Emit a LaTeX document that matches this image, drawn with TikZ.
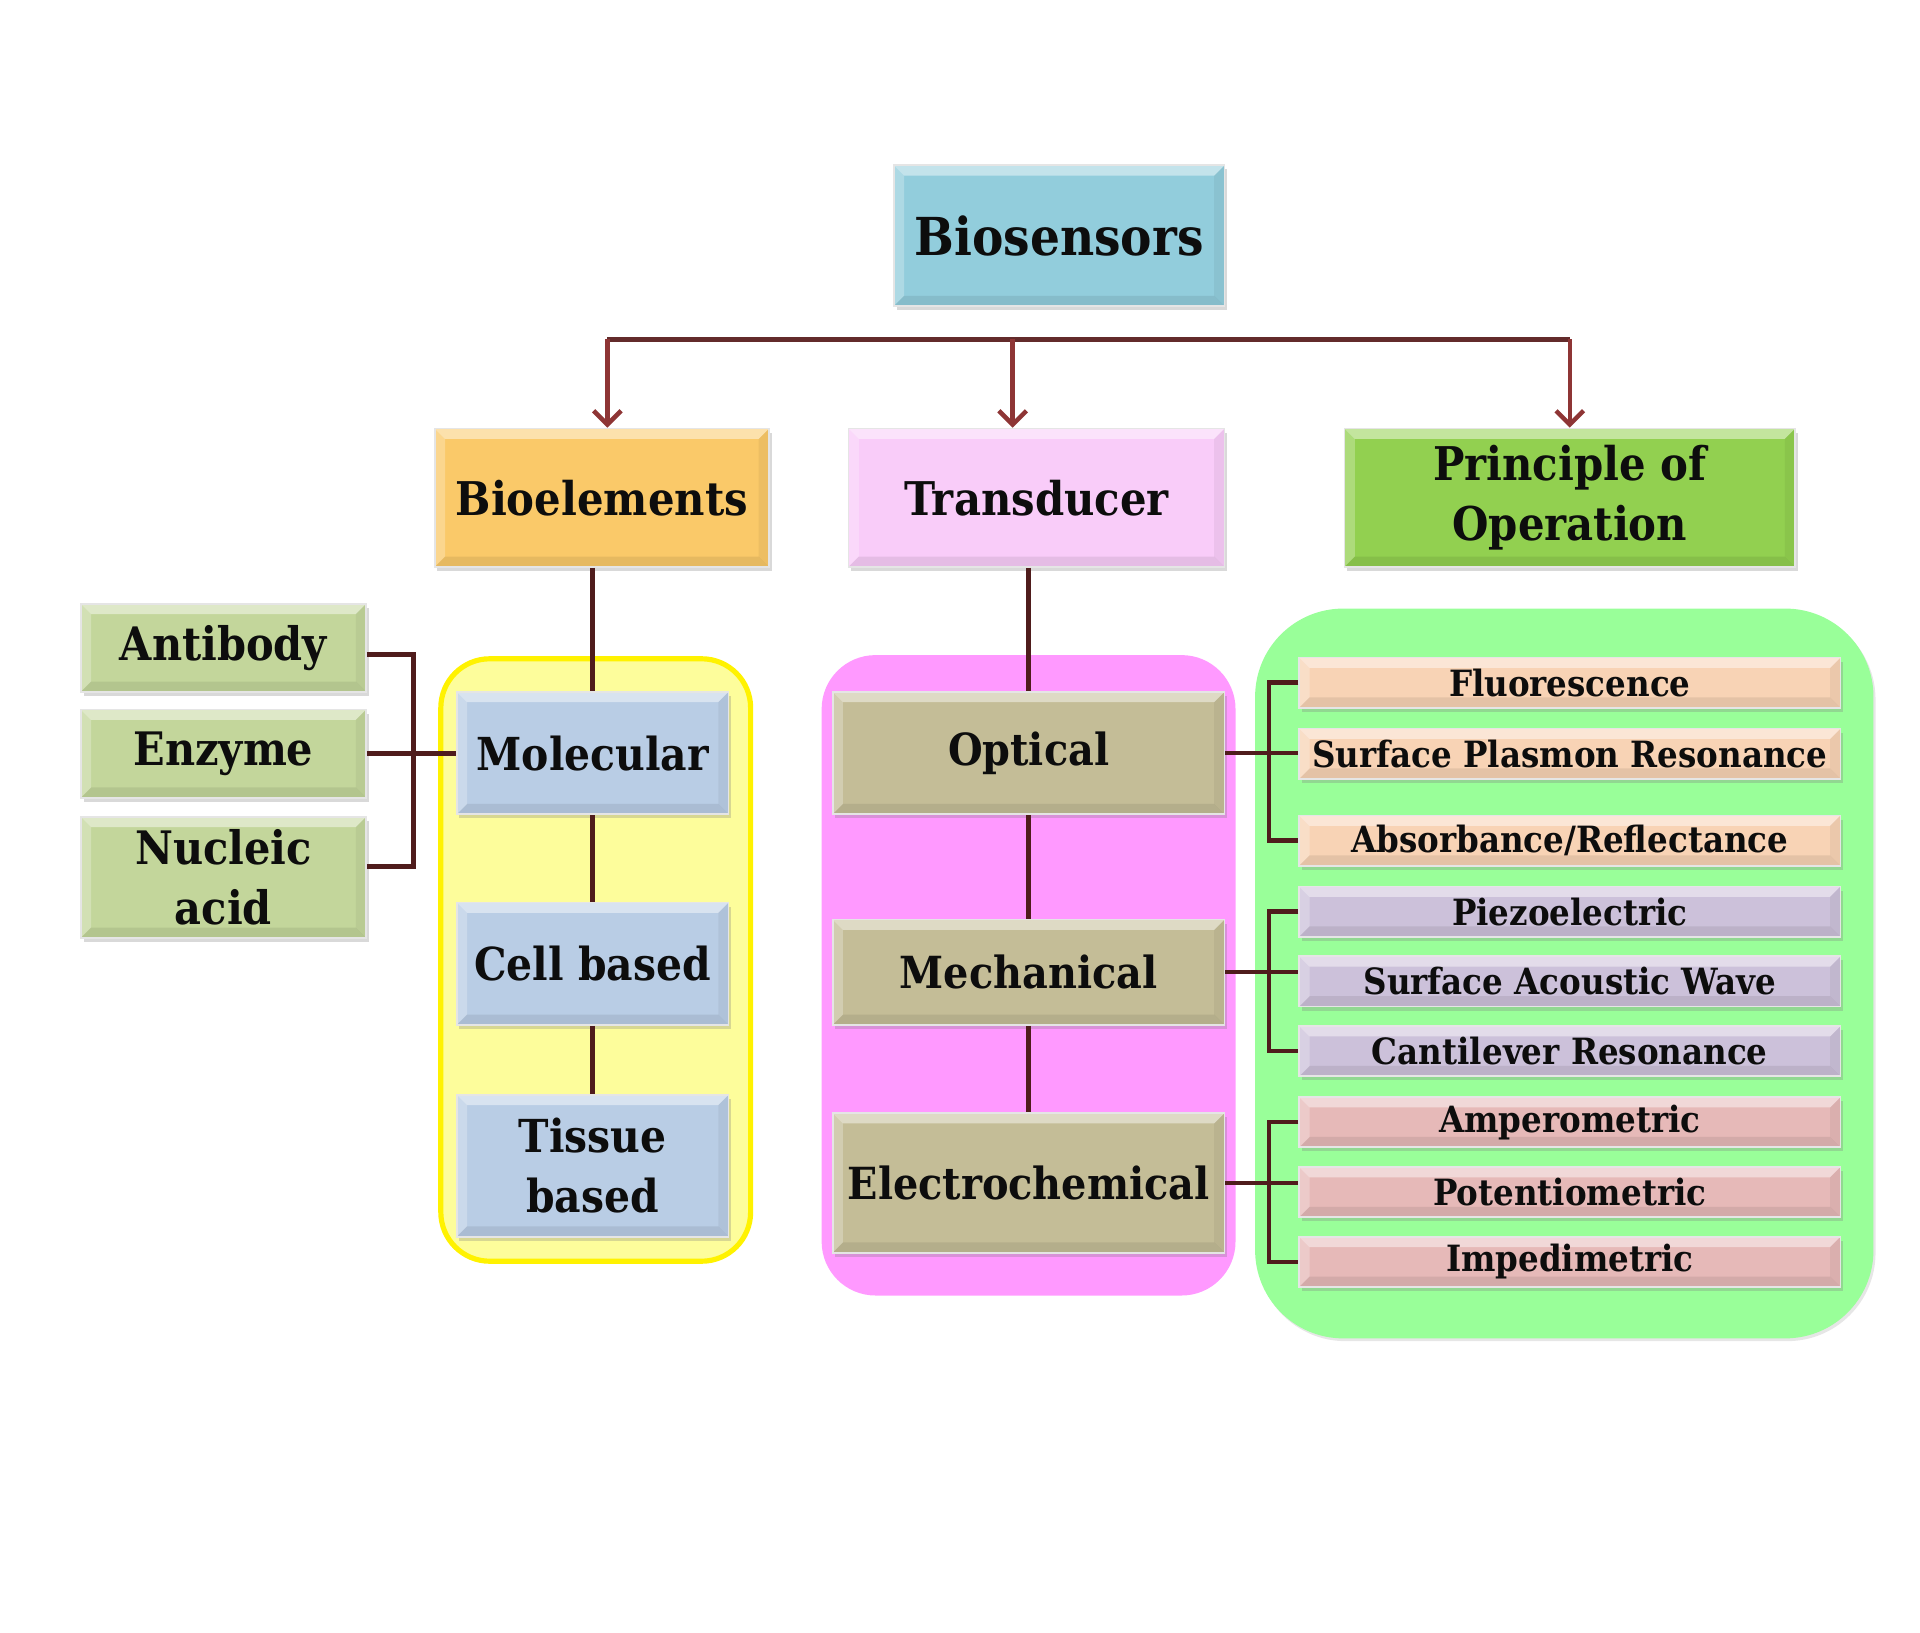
\documentclass[tikz,border=0pt]{standalone}
\usepackage{fontspec}
\setmainfont{DejaVu Serif Condensed}
\usepackage{xcolor}
\usepackage{tikz}
\usetikzlibrary{arrows.meta,shadows}

\definecolor{cBio}{HTML}{92CDDC}
\definecolor{cBioel}{HTML}{FAC969}
\definecolor{cTrans}{HTML}{F9CCF9}
\definecolor{cPrinc}{HTML}{92D050}
\definecolor{cLeft}{HTML}{C3D69B}
\definecolor{cMol}{HTML}{B9CDE5}
\definecolor{cTan}{HTML}{C4BD97}
\definecolor{cPeach}{HTML}{F8D3B5}
\definecolor{cLilac}{HTML}{CCC1DA}
\definecolor{cRose}{HTML}{E6B9B8}
\definecolor{cYelGrp}{HTML}{FDFD9B}
\definecolor{cYelLine}{HTML}{FFF200}
\definecolor{cPinkGrp}{HTML}{FF99FF}
\definecolor{cGreenGrp}{HTML}{99FF99}
\definecolor{linkbrown}{HTML}{4F1C1C}
\definecolor{arrowred}{HTML}{8E3535}
\definecolor{barred}{HTML}{632B2B}

\begin{document}
\begin{tikzpicture}
        % Define styles
        \tikzset{
            bevel/.style={path picture={
                \path (path picture bounding box.north west) coordinate (bnw)
                      (path picture bounding box.south east) coordinate (bse);
                \fill[white,opacity=0.45] (bnw) -- (bnw -| bse) -- ++(-3pt,-3pt) -- ([shift={(3pt,-3pt)}]bnw) -- cycle;
                \fill[white,opacity=0.25] (bnw) -- ([shift={(3pt,-3pt)}]bnw) -- ([shift={(3pt,3pt)}]bnw |- bse) -- (bnw |- bse) -- cycle;
                \fill[black,opacity=0.05] (bse) -- (bse |- bnw) -- ++(-3pt,-3pt) -- ([shift={(-3pt,3pt)}]bse) -- cycle;
                \fill[black,opacity=0.08] (bse) -- (bnw |- bse) -- ++(3pt,3pt) -- ([shift={(-3pt,3pt)}]bse) -- cycle;
            }},
            box/.style={rectangle, inner sep=0pt, align=center, text=black!95,
                draw=white!80!gray, line width=0.5pt, bevel,
                drop shadow={shadow xshift=0.8pt, shadow yshift=-1.2pt, opacity=0.3},
                font=\bfseries\fontsize{13}{17.6}\selectfont},
            head/.style={box, minimum height=1.4125cm, font=\bfseries\fontsize{13.5}{17.6}\selectfont},
            item/.style={box, fill=cLeft, minimum width=2.9125cm, font=\bfseries\fontsize{13.4}{17.6}\selectfont},
            mol/.style={box, fill=cMol, minimum width=2.775cm, font=\bfseries\fontsize{13.2}{17.6}\selectfont},
            trans/.style={box, fill=cTan, minimum width=4cm, font=\bfseries\fontsize{12.85}{17.6}\selectfont},
            small/.style={box, minimum width=5.525cm, minimum height=0.5125cm,
                font=\bfseries\fontsize{10.5}{12}\selectfont},
            conn/.style={draw=linkbrown, line width=1.3pt},
            arrow/.style={->, >={Straight Barb[length=4pt,width=8pt]}, draw=arrowred, line width=1.3pt}
        }
        \useasboundingbox (0,0) rectangle (19.6,-16.6625);

        % Groups
        \fill[cYelGrp, draw=cYelLine, line width=1.5pt, rounded corners=0.5cm] (4.5,-6.725) rectangle (7.6625,-12.875);
        \fill[cPinkGrp, rounded corners=0.55cm] (8.3875,-6.6875) rectangle (12.6125,-13.225);
        \fill[cGreenGrp, rounded corners=0.9cm, drop shadow={shadow xshift=0.6pt, shadow yshift=-0.8pt, opacity=0.2}] (12.8125,-6.2125) rectangle (19.125,-13.6625);

        % Nodes
        \node[box, fill=cBio, minimum width=3.375cm, minimum height=1.4375cm,
              font=\bfseries\fontsize{15.2}{19}\selectfont] (biosensors) at (10.8125,-2.406) {Biosensors};

        \node[head, fill=cBioel, minimum width=3.4125cm] (bioelements) at (6.144,-5.081) {Bioelements};
        \node[head, fill=cTrans, minimum width=3.8375cm] (transducer) at (10.581,-5.081) {Transducer};
        \node[head, fill=cPrinc, minimum width=4.6cm] (principle) at (16.025,-5.081) {Principle of\\Operation};

        \node[item, minimum height=0.9cm] (antibody) at (2.281,-6.6125) {Antibody};
        \node[item, minimum height=0.9cm] (enzyme) at (2.281,-7.694) {Enzyme};
        \node[item, minimum height=1.2375cm] (nucleic) at (2.281,-8.956) {Nucleic\\acid};

        \node[mol, minimum height=1.25cm] (molecular) at (6.05,-7.6875) {Molecular};
        \node[mol, minimum height=1.25cm] (cellbased) at (6.05,-9.8375) {Cell based};
        \node[mol, minimum height=1.45cm] (tissue) at (6.05,-11.9) {Tissue\\based};

        \node[trans, minimum height=1.25cm] (optical) at (10.5,-7.6875) {Optical};
        \node[trans, minimum height=1.075cm] (mechanical) at (10.5,-9.925) {Mechanical};
        \node[trans, minimum height=1.425cm] (electro) at (10.5,-12.075) {Electrochemical};

        \node[small, fill=cPeach] (fluor) at (16.025,-6.969) {Fluorescence};
        \node[small, fill=cPeach] (spr) at (16.025,-7.694) {Surface Plasmon Resonance};
        \node[small, fill=cPeach] (absorb) at (16.025,-8.581) {Absorbance/Reflectance};
        \node[small, fill=cLilac] (piezo) at (16.025,-9.306) {Piezoelectric};
        \node[small, fill=cLilac] (saw) at (16.025,-10.019) {Surface Acoustic Wave};
        \node[small, fill=cLilac] (cantil) at (16.025,-10.731) {Cantilever Resonance};
        \node[small, fill=cRose] (ampero) at (16.025,-11.456) {Amperometric};
        \node[small, fill=cRose] (poten) at (16.025,-12.169) {Potentiometric};
        \node[small, fill=cRose] (imped) at (16.025,-12.881) {Impedimetric};

        % Arrows
        \coordinate (barL) at (6.2,-3.4625);
        \coordinate (barM) at (10.3375,-3.4625);
        \coordinate (barR) at (16.025,-3.4625);
        \draw[draw=barred, line width=1.5pt] (barL) -- (barR);
        \draw[arrow] (barL) -- (barL |- bioelements.north);
        \draw[arrow] (barM) -- (barM |- transducer.north);
        \draw[arrow] (barR) -- (principle.north);

        % Connectors
        \draw[conn] (bioelements.south -| molecular.north) -- (molecular.north);
        \draw[conn] (molecular) -- (cellbased);
        \draw[conn] (cellbased) -- (tissue);
        \draw[conn] (transducer.south -| optical.north) -- (optical.north);
        \draw[conn] (optical) -- (mechanical);
        \draw[conn] (mechanical) -- (electro);

        \draw[conn] ([yshift=-0.07cm]antibody.east) -- ++(0.475,0) |- ([yshift=0.11cm]nucleic.east);
        \draw[conn] (enzyme.east) -- (enzyme.east -| molecular.west);

        \draw[conn] (fluor.west) -- ++(-0.3,0) |- (absorb.west);
        \draw[conn] (optical.east) -- (optical.east -| spr.west);
        \draw[conn] (piezo.west) -- ++(-0.3,0) |- (cantil.west);
        \draw[conn] (mechanical.east) -- (mechanical.east -| saw.west);
        \draw[conn] (ampero.west) -- ++(-0.3,0) |- (imped.west);
        \draw[conn] (electro.east) -- (electro.east -| poten.west);
    \end{tikzpicture}
\end{document}
